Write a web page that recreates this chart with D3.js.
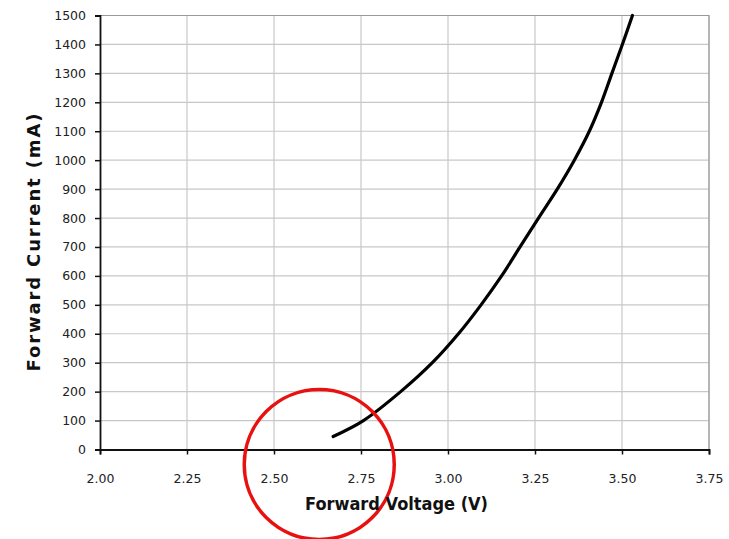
<!DOCTYPE html>
<html>
<head>
<meta charset="utf-8">
<script src="https://cdn.jsdelivr.net/npm/d3@7"></script>
<style>
  body { margin: 0; background: #fff; }
  text { font-family: "DejaVu Sans", Verdana, sans-serif; }
</style>
</head>
<body>
<svg id="chart" width="729" height="539"></svg>
<script>
// Forward voltage vs forward current curve
const voltage = [2.670, 2.757, 2.864, 2.955, 3.030, 3.095, 3.154, 3.207, 3.260, 3.314, 3.363, 3.406, 3.441, 3.471, 3.501, 3.530];
const current = [45, 100, 200, 300, 400, 500, 600, 700, 800, 900, 1000, 1100, 1200, 1300, 1400, 1500];
const xTicks = [2.00, 2.25, 2.50, 2.75, 3.00, 3.25, 3.50, 3.75];
const yTicks = [0, 100, 200, 300, 400, 500, 600, 700, 800, 900, 1000, 1100, 1200, 1300, 1400, 1500];

const svg = d3.select("#chart");
const margin = { left: 100, top: 15.5, right: 20, bottom: 89.5 };
const width = 729 - margin.left - margin.right;
const height = 539 - margin.top - margin.bottom;

const x = d3.scaleLinear().domain([2.0, 3.75]).range([0, width]);
const y = d3.scaleLinear().domain([0, 1500]).range([height, 0]);

const g = svg.append("g").attr("transform", `translate(${margin.left},${margin.top})`);

// grid
g.append("g").selectAll("line")
  .data(yTicks.slice(1))
  .join("line")
  .attr("x1", 0).attr("x2", width)
  .attr("y1", d => y(d)).attr("y2", d => y(d))
  .attr("stroke", "#c8c8c8").attr("stroke-width", 1.2);

g.append("g").selectAll("line")
  .data(xTicks.slice(1))
  .join("line")
  .attr("x1", d => x(d)).attr("x2", d => x(d))
  .attr("y1", 0).attr("y2", height)
  .attr("stroke", "#c8c8c8").attr("stroke-width", 1.2);

// top / right border
g.append("path")
  .attr("d", `M0,0H${width}V${height}`)
  .attr("fill", "none").attr("stroke", "#999").attr("stroke-width", 1.2);

// axes
const xAxis = g.append("g")
  .attr("transform", `translate(0,${height})`)
  .call(d3.axisBottom(x).tickValues(xTicks).tickFormat(d3.format(".2f")).tickSize(5).tickPadding(20));
const yAxis = g.append("g")
  .call(d3.axisLeft(y).tickValues(yTicks).tickFormat(d3.format("d")).tickSize(5).tickPadding(9));

[xAxis, yAxis].forEach(a => {
  a.select(".domain").attr("stroke", "#111").attr("stroke-width", 1.8);
  a.selectAll(".tick line").attr("stroke", "#111").attr("stroke-width", 1.5);
  a.selectAll(".tick text")
    .style("font-size", "12.5px")
    .style("font-family", "'DejaVu Sans', Verdana, sans-serif")
    .attr("fill", "#222");
});

// curve
const line = d3.line()
  .x((d, i) => x(voltage[i]))
  .y(d => y(d))
  .curve(d3.curveCatmullRom);

g.append("path")
  .datum(current)
  .attr("d", line)
  .attr("fill", "none")
  .attr("stroke", "#000")
  .attr("stroke-width", 3.2)
  .attr("stroke-linecap", "round");

// axis titles
svg.append("text")
  .attr("x", 396.5)
  .attr("y", 510)
  .attr("text-anchor", "middle")
  .attr("textLength", 183)
  .attr("lengthAdjust", "spacingAndGlyphs")
  .style("font-size", "17px")
  .style("font-weight", "bold")
  .attr("fill", "#111")
  .text("Forward Voltage (V)");

svg.append("text")
  .attr("transform", "translate(40,242.5) rotate(-90)")
  .attr("text-anchor", "middle")
  .attr("textLength", 258)
  .attr("lengthAdjust", "spacing")
  .style("font-size", "18px")
  .style("font-weight", "bold")
  .attr("fill", "#111")
  .text("Forward Current (mA)");

// red annotation circle
g.append("circle")
  .attr("cx", x(2.63))
  .attr("cy", y(-52))
  .attr("r", 75)
  .attr("fill", "none")
  .attr("stroke", "#e8110f")
  .attr("stroke-width", 3.5);
</script>
</body>
</html>
